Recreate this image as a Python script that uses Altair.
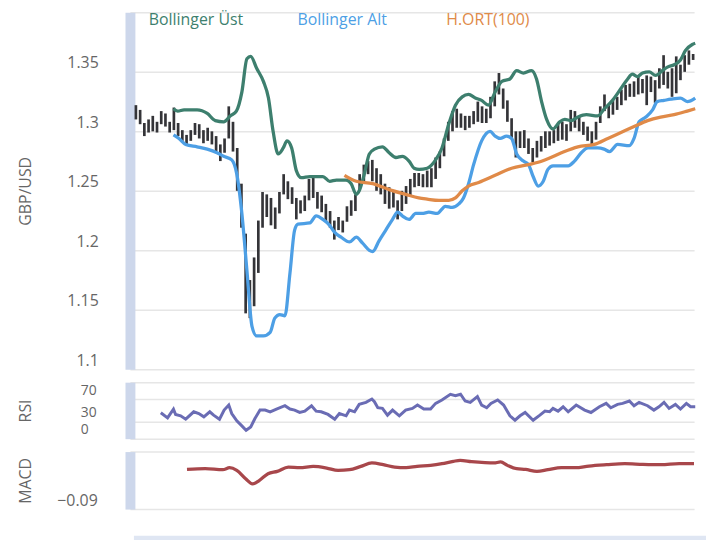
import altair as alt
import pandas as pd

# ---------------- data ----------------
# OHLC bars: one bar every second trading day, index j = 0..132
BAR_HIGH = [1.322, 1.318, 1.307, 1.310, 1.313, 1.308, 1.317, 1.315, 1.308, 1.320,
            1.307, 1.301, 1.297, 1.301, 1.307, 1.306, 1.301, 1.303, 1.300, 1.296,
            1.289, 1.294, 1.321, 1.308, 1.286, 1.256, 1.214, 1.175, 1.194, 1.225,
            1.249, 1.247, 1.244, 1.236, 1.249, 1.264, 1.258, 1.253, 1.244, 1.242,
            1.246, 1.260, 1.261, 1.249, 1.246, 1.239, 1.233, 1.225, 1.228, 1.225,
            1.237, 1.242, 1.247, 1.264, 1.272, 1.275, 1.276, 1.269, 1.264, 1.256,
            1.253, 1.249, 1.242, 1.250, 1.254, 1.260, 1.265, 1.265, 1.264, 1.267,
            1.269, 1.278, 1.283, 1.294, 1.308, 1.317, 1.319, 1.315, 1.313, 1.313,
            1.317, 1.325, 1.321, 1.319, 1.329, 1.342, 1.349, 1.336, 1.326, 1.311,
            1.300, 1.300, 1.301, 1.294, 1.286, 1.292, 1.296, 1.300, 1.300, 1.301,
            1.306, 1.308, 1.306, 1.318, 1.317, 1.313, 1.308, 1.304, 1.300, 1.308,
            1.321, 1.331, 1.322, 1.326, 1.329, 1.335, 1.339, 1.340, 1.342, 1.346,
            1.344, 1.347, 1.346, 1.343, 1.353, 1.364, 1.350, 1.353, 1.363, 1.356,
            1.364, 1.368, 1.365]
BAR_LOW = [1.310, 1.306, 1.296, 1.299, 1.300, 1.299, 1.306, 1.304, 1.299, 1.301,
           1.296, 1.292, 1.288, 1.292, 1.297, 1.294, 1.290, 1.292, 1.289, 1.283,
           1.275, 1.282, 1.294, 1.283, 1.250, 1.219, 1.147, 1.143, 1.153, 1.181,
           1.219, 1.228, 1.221, 1.218, 1.231, 1.247, 1.243, 1.239, 1.226, 1.231,
           1.233, 1.242, 1.244, 1.235, 1.232, 1.224, 1.219, 1.209, 1.217, 1.215,
           1.224, 1.229, 1.233, 1.250, 1.258, 1.264, 1.258, 1.250, 1.247, 1.239,
           1.235, 1.236, 1.226, 1.233, 1.239, 1.246, 1.253, 1.254, 1.253, 1.253,
           1.253, 1.260, 1.269, 1.279, 1.292, 1.300, 1.303, 1.303, 1.301, 1.303,
           1.306, 1.308, 1.307, 1.307, 1.311, 1.321, 1.331, 1.319, 1.308, 1.294,
           1.278, 1.286, 1.286, 1.281, 1.274, 1.278, 1.283, 1.286, 1.288, 1.290,
           1.292, 1.293, 1.292, 1.300, 1.303, 1.300, 1.297, 1.292, 1.289, 1.293,
           1.307, 1.317, 1.311, 1.314, 1.318, 1.322, 1.326, 1.329, 1.329, 1.331,
           1.332, 1.322, 1.333, 1.324, 1.336, 1.339, 1.336, 1.329, 1.332, 1.343,
           1.350, 1.356, 1.360]

# Bollinger upper band
UB_X = [8.9, 9.9, 11.4, 14.5, 16.9, 18.8, 20.8, 22.4, 23.8, 25.1, 26.3, 27.2, 28.6, 30.2, 31.4,
        32.5, 33.7, 34.9, 35.8, 36.9, 38.0, 39.2, 41.2, 44.3, 45.9, 47.5, 49.8, 51.0, 52.2, 52.9,
        54.1, 55.3, 56.5, 58.4, 60.0, 61.6, 63.1, 64.7, 65.9, 67.1, 69.0, 71.0, 72.5, 74.1, 75.7,
        77.3, 78.8, 80.4, 81.9, 83.5, 85.1, 86.7, 88.6, 90.2, 91.8, 93.7, 94.9, 96.1, 97.3, 98.8,
        100.4, 101.6, 103.1, 104.7, 106.7, 109.4, 111.0, 112.9, 114.9, 116.5, 117.6, 118.8, 120.0,
        121.6, 123.1, 124.7, 125.9, 127.5, 129.0, 130.2, 131.8, 132.5]
UB_Y = [1.319, 1.317, 1.318, 1.318, 1.315, 1.309, 1.308, 1.313, 1.317, 1.333, 1.361, 1.363, 1.353,
        1.342, 1.328, 1.300, 1.281, 1.286, 1.292, 1.286, 1.267, 1.261, 1.262, 1.262, 1.258, 1.259,
        1.259, 1.256, 1.247, 1.250, 1.264, 1.281, 1.285, 1.287, 1.282, 1.278, 1.279, 1.275, 1.269,
        1.268, 1.269, 1.276, 1.286, 1.306, 1.322, 1.329, 1.331, 1.328, 1.326, 1.322, 1.333, 1.342,
        1.344, 1.351, 1.349, 1.351, 1.344, 1.325, 1.310, 1.302, 1.308, 1.310, 1.309, 1.312, 1.314,
        1.313, 1.319, 1.326, 1.336, 1.344, 1.348, 1.346, 1.349, 1.350, 1.347, 1.351, 1.354, 1.356,
        1.360, 1.368, 1.373, 1.374]

# Bollinger lower band
LB_X = [8.9, 10.2, 11.8, 14.5, 16.9, 19.2, 20.8, 22.7, 23.9, 25.1, 26.3, 27.5, 28.6, 30.2, 31.8,
        32.9, 34.1, 35.3, 36.5, 37.6, 38.4, 41.2, 42.7, 44.3, 45.9, 47.1, 48.6, 50.6, 52.2, 53.7,
        55.3, 56.1, 57.6, 59.2, 60.8, 62.0, 63.1, 64.7, 66.3, 67.8, 69.4, 71.4, 73.3, 74.9, 76.5,
        77.6, 78.8, 80.0, 81.9, 83.9, 85.1, 86.3, 87.8, 89.0, 90.2, 91.8, 93.0, 94.1, 95.3, 96.5,
        97.6, 98.8, 100.8, 102.4, 103.9, 105.5, 107.1, 109.4, 110.9, 112.2, 114.1, 116.9, 118.0,
        119.2, 120.8, 122.4, 123.5, 125.1, 126.7, 129.0, 130.6, 132.5]
LB_Y = [1.297, 1.294, 1.289, 1.287, 1.285, 1.282, 1.279, 1.276, 1.264, 1.231, 1.183, 1.136, 1.128,
        1.128, 1.131, 1.143, 1.146, 1.145, 1.181, 1.217, 1.222, 1.223, 1.229, 1.226, 1.221, 1.215,
        1.211, 1.207, 1.211, 1.206, 1.200, 1.199, 1.208, 1.217, 1.226, 1.232, 1.229, 1.226, 1.231,
        1.231, 1.232, 1.231, 1.237, 1.236, 1.239, 1.244, 1.256, 1.272, 1.292, 1.300, 1.296, 1.294,
        1.296, 1.294, 1.281, 1.275, 1.272, 1.262, 1.254, 1.258, 1.268, 1.271, 1.271, 1.271, 1.275,
        1.282, 1.286, 1.286, 1.285, 1.283, 1.289, 1.288, 1.294, 1.308, 1.312, 1.318, 1.325, 1.326,
        1.327, 1.328, 1.325, 1.328]

# Simple moving average (100)
SMA_X = [49.4, 52.2, 56.1, 60.0, 63.9, 67.0, 69.0, 71.8, 74.1, 75.7, 77.3, 78.8, 81.2, 85.1, 89.0,
         93.0, 95.3, 97.6, 100.8, 104.7, 108.6, 111.8, 114.9, 118.0, 121.2, 124.3, 127.5, 130.6, 132.5]
SMA_Y = [1.263, 1.258, 1.256, 1.251, 1.247, 1.244, 1.243, 1.242, 1.242, 1.244, 1.250, 1.254, 1.257,
         1.263, 1.269, 1.272, 1.274, 1.277, 1.282, 1.287, 1.289, 1.294, 1.299, 1.304, 1.309, 1.312,
         1.314, 1.317, 1.319]

# RSI
RSI_X = [5.9, 7.5, 8.9, 9.4, 10.6, 11.8, 13.7, 14.9, 16.1, 17.5, 18.4, 19.8, 20.9, 22.0, 22.7, 23.9,
         25.1, 26.1, 27.2, 28.2, 29.4, 30.6, 31.8, 33.3, 35.3, 36.5, 37.6, 38.8, 40.0, 41.6, 42.7,
         43.9, 45.5, 47.1, 48.2, 49.8, 50.6, 51.8, 52.9, 54.5, 55.9, 56.5, 57.3, 58.4, 59.6, 60.8,
         62.4, 63.9, 65.5, 66.7, 68.2, 69.8, 71.0, 72.5, 74.5, 75.7, 76.9, 78.0, 79.2, 80.9, 81.9,
         83.1, 84.1, 85.7, 87.1, 88.6, 89.8, 91.0, 92.2, 94.1, 95.7, 96.9, 98.0, 98.8, 100.0, 101.2,
         102.4, 104.3, 106.3, 107.8, 109.8, 111.4, 112.5, 114.1, 115.3, 116.9, 118.0, 119.2, 121.2,
         122.7, 123.9, 125.1, 126.3, 127.8, 129.0, 130.4, 131.4, 132.5]
RSI_Y = [45.8, 36.9, 52.4, 42.9, 40.5, 34.5, 47.6, 44.6, 38.7, 47.6, 41.7, 34.5, 50.6, 59.5, 44.6,
         31.5, 22.6, 14.9, 20.8, 35.7, 50.6, 50.6, 47.6, 52.4, 58.3, 52.4, 50.6, 46.4, 48.8, 58.3,
         48.8, 47.6, 42.9, 34.5, 44.6, 40.5, 50.6, 47.6, 60.7, 64.3, 70.2, 65.5, 54.8, 53.6, 41.7,
         50.6, 40.5, 50.6, 53.6, 59.5, 52.4, 52.4, 62.5, 68.5, 78.6, 76.2, 78.6, 66.7, 64.3, 74.4,
         59.5, 54.8, 62.5, 68.5, 59.5, 40.5, 32.7, 40.5, 46.4, 32.7, 41.7, 48.8, 47.6, 53.6, 48.8,
         56.5, 47.6, 59.5, 50.6, 46.4, 56.5, 62.5, 54.8, 60.7, 62.5, 66.7, 58.3, 64.3, 58.3, 50.6,
         56.5, 64.3, 53.6, 60.7, 52.4, 62.5, 56.5, 56.5]

# MACD
MACD_X = [12.1, 16.4, 20.6, 22.2, 23.9, 26.0, 27.6, 29.2, 31.3, 33.5, 36.1, 38.8, 42.0, 45.2, 47.9,
          50.6, 53.3, 55.9, 58.6, 61.3, 64.0, 66.6, 69.8, 72.5, 75.2, 76.8, 79.5, 82.7, 84.8, 86.4,
          88.0, 90.2, 92.3, 95.0, 97.6, 100.8, 104.1, 107.3, 111.5, 115.8, 120.1, 124.4, 128.7, 132.2]
MACD_Y = [-0.0073, -0.0058, -0.0079, -0.0037, -0.0094, -0.0268, -0.0374, -0.0304, -0.0163, -0.0114,
          -0.0023, -0.0037, -0.0009, -0.0043, -0.0094, -0.0079, -0.0009, 0.0062, 0.0026, -0.0023,
          -0.0037, -0.0009, 0.0012, 0.0047, 0.0096, 0.0117, 0.0089, 0.0068, 0.0062, 0.0083,
          0.0012, -0.0058, -0.0073, -0.0114, -0.0079, -0.0037, -0.0037, -0.0002, 0.0026, 0.0047,
          0.0033, 0.0026, 0.0047, 0.0047]

LEGEND_LABELS = ["Bollinger Üst", "Bollinger Alt", "H.ORT(100)"]
PRICE_TICKS = [1.1, 1.15, 1.2, 1.25, 1.3, 1.35, 1.4]
RSI_TICKS = [0, 30, 70, 100]
MACD_TICKS = [-0.09, 0.03]

# ---------------- styling ----------------
FONT = "Open Sans"
C_UP, C_LO, C_SMA = "#3d7f6e", "#4d9fe5", "#e08a48"
C_BAR, C_RSI, C_MACD = "#343438", "#6a6cb4", "#a8474b"
C_GRID, C_BAND, C_TXT = "#e6e6e6", "#cdd7eb", "#666666"
W = 569
XS = alt.Scale(domain=[-1.41, 132.23], nice=False, zero=False)


def yaxis(title, values, label_expr, height, align="right", pad=32, size=16):
    return alt.Axis(values=values, title=title, grid=True, gridColor=C_GRID, gridWidth=1.5,
                    domain=True, domainColor=C_BAND, domainWidth=10, ticks=False, tickSize=0,
                    labelFont=FONT, labelFontSize=size, labelColor=C_TXT, labelPadding=pad,
                    labelAlign=align, labelBaseline="middle", labelOffset=-9,
                    labelExpr=label_expr, titleFont=FONT, titleFontSize=16,
                    titleFontWeight="normal", titleColor=C_TXT, titleAngle=270,
                    titleAlign="center", titleBaseline="alphabetic", titleX=-100,
                    titleY=height / 2)


bars_df = pd.DataFrame({"j": list(range(len(BAR_HIGH))), "high": BAR_HIGH, "low": BAR_LOW})
ub_df = pd.DataFrame({"j": UB_X, "v": UB_Y})
lb_df = pd.DataFrame({"j": LB_X, "v": LB_Y})
sma_df = pd.DataFrame({"j": SMA_X, "v": SMA_Y})
rsi_df = pd.DataFrame({"j": RSI_X, "v": RSI_Y})
macd_df = pd.DataFrame({"j": MACD_X, "v": MACD_Y})

PY = alt.Scale(domain=[1.1, 1.4], nice=False, zero=False)
H1 = 360

bars = alt.Chart(bars_df).mark_rule(color=C_BAR, strokeWidth=2.7).encode(
    x=alt.X("j:Q", scale=XS, axis=None),
    y=alt.Y("low:Q", scale=PY,
            axis=yaxis("GBP/USD", PRICE_TICKS,
                       "datum.value > 1.39 ? '' : '' + datum.value", H1)),
    y2="high:Q",
)


def band(df, color, interp="monotone"):
    return alt.Chart(df).mark_line(color=color, strokeWidth=3.3, interpolate=interp).encode(
        x=alt.X("j:Q", scale=XS, axis=None), y=alt.Y("v:Q", scale=PY))


legend_layers = []
for name, color, px in zip(LEGEND_LABELS, [C_UP, C_LO, C_SMA], [19, 169, 319]):
    legend_layers.append(
        alt.Chart(pd.DataFrame({"t": [name]})).mark_text(
            font=FONT, fontSize=16, color=color, align="left", baseline="top"
        ).encode(text="t:N", x=alt.value(px), y=alt.value(0))
    )

price = alt.layer(bars, band(ub_df, C_UP), band(lb_df, C_LO), band(sma_df, C_SMA),
                  *legend_layers).properties(width=W, height=H1)

H2 = 57
rsi = alt.Chart(rsi_df).mark_line(color=C_RSI, strokeWidth=3).encode(
    x=alt.X("j:Q", scale=XS, axis=None),
    y=alt.Y("v:Q", scale=alt.Scale(domain=[0, 100], nice=False),
            axis=yaxis("RSI", RSI_TICKS, "datum.value > 99 ? '' : '' + datum.value", H2,
                       align="left", pad=50, size=14)),
).properties(width=W, height=H2)

H3 = 58
macd = alt.Chart(macd_df).mark_line(color=C_MACD, strokeWidth=3.3, interpolate="monotone").encode(
    x=alt.X("j:Q", scale=XS, axis=None),
    y=alt.Y("v:Q", scale=alt.Scale(domain=[-0.09, 0.03], nice=False, zero=False),
            axis=yaxis("MACD", MACD_TICKS, "datum.value < 0 ? format(datum.value, '.2f') : ''", H3,
                       pad=33)),
).properties(width=W, height=H3)

nav = alt.Chart(pd.DataFrame({"k": [0]})).mark_rect(color="#dfe6f3").encode(
    x=alt.value(4), x2=alt.value(581), y=alt.value(14), y2=alt.value(40)
).properties(width=W, height=40)

chart = (
    alt.vconcat(price, rsi, macd, nav, spacing=13)
    .properties(padding={"left": 10, "top": 2, "right": 0, "bottom": 0})
    .configure(font=FONT)
    .configure_view(strokeWidth=0, stroke=None)
)

chart.save("out.html", embed_options={"renderer": "svg", "actions": False})
